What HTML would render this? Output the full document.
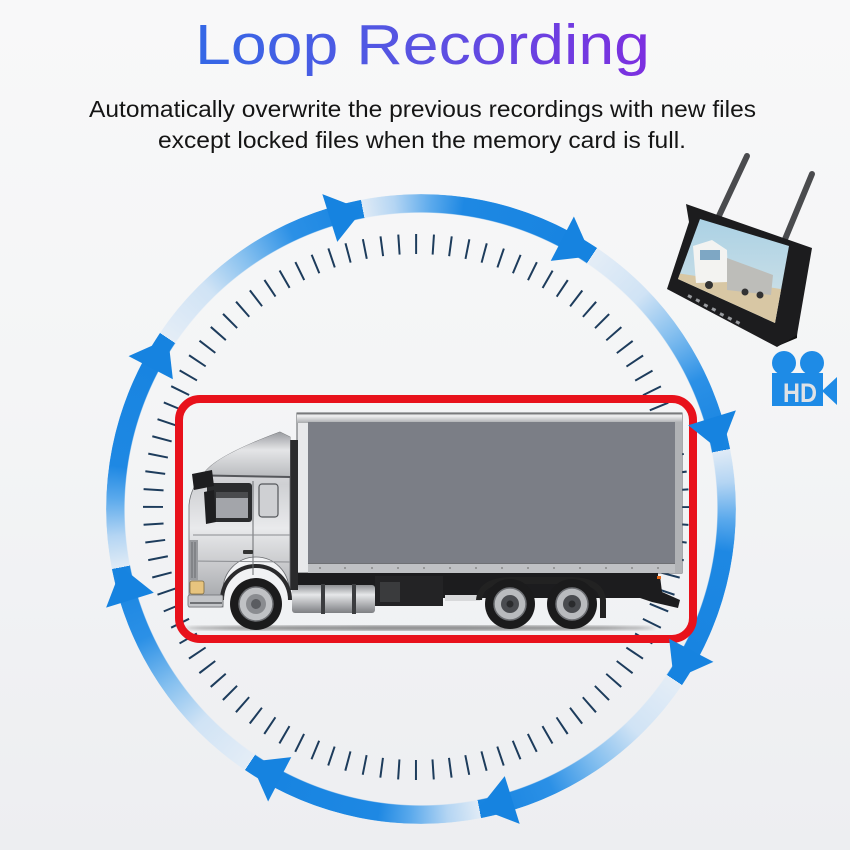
<!DOCTYPE html>
<html><head><meta charset="utf-8">
<style>
html,body{margin:0;padding:0;}
body{width:850px;height:850px;position:relative;overflow:hidden;
background:linear-gradient(180deg,#f8f8f9 0%,#f4f5f6 45%,#edeef1 100%);
font-family:"Liberation Sans",Arial,sans-serif;}
#ring{position:absolute;left:106px;top:194px;width:630px;height:630px;border-radius:50%;
background:repeating-conic-gradient(from 304deg,#e4edf6 0deg,#d0e3f5 12deg,#86c0ef 21deg,#2b90e6 31deg,#1683e0 45deg,#e0ebf6 45deg,#b4d5f3 51deg,#5aa9ec 58deg,#1e88e3 64deg,#1683e0 90deg);
-webkit-mask-image:radial-gradient(circle at center,transparent 296px,#000 297px,#000 314.5px,transparent 315.5px);
mask-image:radial-gradient(circle at center,transparent 296px,#000 297px,#000 314.5px,transparent 315.5px);}
svg{position:absolute;left:0;top:0;}
</style></head>
<body>
<div id="ring"></div>
<svg width="850" height="850" viewBox="0 0 850 850" xmlns="http://www.w3.org/2000/svg">
<defs>
<linearGradient id="tg" gradientUnits="userSpaceOnUse" x1="195" y1="0" x2="650" y2="0">
<stop offset="0" stop-color="#3468e6"/><stop offset="0.5" stop-color="#5a52e2"/><stop offset="1" stop-color="#7d2fe0"/>
</linearGradient>
<linearGradient id="silv" x1="0" y1="0" x2="0" y2="1">
<stop offset="0" stop-color="#f2f2f4"/><stop offset="0.3" stop-color="#cfd0d3"/><stop offset="0.55" stop-color="#e9eaec"/><stop offset="0.8" stop-color="#c2c3c6"/><stop offset="1" stop-color="#9fa1a5"/>
</linearGradient>
<linearGradient id="roof" x1="0" y1="0" x2="0" y2="1">
<stop offset="0" stop-color="#9a9ca0"/><stop offset="0.4" stop-color="#e4e5e7"/><stop offset="1" stop-color="#b9bbbe"/>
</linearGradient>
<linearGradient id="rail" x1="0" y1="0" x2="0" y2="1">
<stop offset="0" stop-color="#5a5b5e"/><stop offset="0.25" stop-color="#f4f4f5"/><stop offset="1" stop-color="#a9abae"/>
</linearGradient>
<linearGradient id="post" x1="0" y1="0" x2="1" y2="0">
<stop offset="0" stop-color="#e8e9eb"/><stop offset="1" stop-color="#a8aaad"/>
</linearGradient>
<linearGradient id="tank" x1="0" y1="0" x2="0" y2="1">
<stop offset="0" stop-color="#8e9094"/><stop offset="0.35" stop-color="#e6e7e9"/><stop offset="1" stop-color="#7d7f83"/>
</linearGradient>
<linearGradient id="sky" x1="0" y1="0" x2="0" y2="1">
<stop offset="0" stop-color="#a8d0e4"/><stop offset="1" stop-color="#d6e4e8"/>
</linearGradient>
<filter id="blur2"><feGaussianBlur stdDeviation="1.5"/></filter>
<clipPath id="scr"><polygon points="700,219 789,246 775,323 678,279"/></clipPath>
</defs>

<!-- tick ring -->
<circle cx="416" cy="507" r="263" fill="none" stroke="#1d3c5c" stroke-width="20" stroke-dasharray="2 15.2133" stroke-dashoffset="1"/>

<!-- red frame -->
<rect x="179" y="399" width="514" height="240" rx="21" fill="none" stroke="#e8111b" stroke-width="8"/>

<!-- truck -->
<ellipse cx="420" cy="628" rx="235" ry="2.5" fill="#333" opacity="0.55" filter="url(#blur2)"/>
<rect x="297" y="413" width="385" height="160" fill="url(#post)" stroke="#5d5f63" stroke-width="1"/>
<rect x="297" y="413" width="385" height="10" fill="url(#rail)"/>
<rect x="308" y="422" width="367" height="141" fill="#7b7e86"/>
<rect x="308" y="563" width="374" height="10" fill="#bfc1c4"/>
<line x1="308" y1="563.5" x2="675" y2="563.5" stroke="#6e7074" stroke-width="1"/>
<g fill="#777">
<circle cx="320" cy="568" r="0.9"/><circle cx="345" cy="568" r="0.9"/><circle cx="372" cy="568" r="0.9"/><circle cx="398" cy="568" r="0.9"/><circle cx="424" cy="568" r="0.9"/><circle cx="450" cy="568" r="0.9"/><circle cx="476" cy="568" r="0.9"/><circle cx="502" cy="568" r="0.9"/><circle cx="528" cy="568" r="0.9"/><circle cx="554" cy="568" r="0.9"/><circle cx="580" cy="568" r="0.9"/><circle cx="606" cy="568" r="0.9"/><circle cx="632" cy="568" r="0.9"/><circle cx="658" cy="568" r="0.9"/>
</g>
<rect x="675" y="422" width="7" height="151" fill="#b0b2b5"/>
<rect x="296" y="573" width="362" height="25" fill="#1c1c1e"/>
<rect x="445" y="595" width="35" height="6" fill="#d8d9db"/>
<path d="M640 578 L660 576 L662 592 L680 600 L678 608 L652 602 L640 598 Z" fill="#1c1c1e"/>
<rect x="657" y="576" width="4" height="3" fill="#e86a1a"/>
<path d="M476 600 Q478 578 510 577 L572 577 Q604 578 606 600 L606 618 L600 618 L600 600 Q598 584 572 584 L510 584 Q483 584 482 600 Z" fill="#222"/>
<g>
<circle cx="510" cy="604" r="25" fill="#1b1b1c"/>
<circle cx="510" cy="604" r="16" fill="#b9bbbe" stroke="#6d6f73" stroke-width="1.5"/>
<circle cx="510" cy="604" r="9" fill="#4a4c50"/>
<circle cx="510" cy="604" r="3.5" fill="#2a2b2d"/>
<circle cx="572" cy="604" r="25" fill="#1b1b1c"/>
<circle cx="572" cy="604" r="16" fill="#b9bbbe" stroke="#6d6f73" stroke-width="1.5"/>
<circle cx="572" cy="604" r="9" fill="#4a4c50"/>
<circle cx="572" cy="604" r="3.5" fill="#2a2b2d"/>
</g>
<rect x="375" y="576" width="68" height="30" fill="#232325"/>
<rect x="380" y="582" width="20" height="20" fill="#3a3b3d"/>
<rect x="292" y="585" width="83" height="28" rx="3" fill="url(#tank)"/>
<rect x="321" y="584" width="4" height="30" fill="#3b3c3f"/>
<rect x="352" y="584" width="4" height="30" fill="#3b3c3f"/>
<rect x="288" y="440" width="10" height="150" fill="#2a2a2c"/>
<path d="M189,505 C190,492 196,482 205,472 C214,460 240,447 280,432 L290,437 L290,590 L289,590 A33,33 0 0 0 223,590 L223,607 L189,607 Z" fill="url(#silv)" stroke="#6b6d71" stroke-width="0.8"/>
<path d="M205,472 C214,460 240,447 280,432 L290,437 L290,477 L208,475 Z" fill="url(#roof)"/>
<line x1="207" y1="475.5" x2="290" y2="477" stroke="#55575b" stroke-width="2"/>
<path d="M222,600 A34,34 0 0 1 290,600" fill="none" stroke="#2a2a2c" stroke-width="4"/>
<circle cx="256" cy="604" r="26" fill="#1b1b1c"/>
<circle cx="256" cy="604" r="17" fill="#c0c2c5" stroke="#6d6f73" stroke-width="1.5"/>
<circle cx="256" cy="604" r="10" fill="#8a8c90"/>
<circle cx="256" cy="604" r="5" fill="#5a5c60"/>
<rect x="207" y="483" width="45" height="39" rx="3" fill="#2b2c2e"/>
<rect x="216" y="492" width="32" height="26" fill="#a3a5aa"/>
<rect x="216" y="492" width="32" height="6" fill="#4a4b4e"/>
<path d="M204,492 L214,490 L216,522 L206,524 Z" fill="#1e1e20"/>
<path d="M192,474 L212,470 L214,486 L194,490 Z" fill="#1e1e20"/>
<rect x="259" y="484" width="19" height="33" rx="3" fill="#cfd0d3" stroke="#55575b" stroke-width="1.2"/>
<line x1="253" y1="481" x2="253" y2="575" stroke="#6b6d71" stroke-width="1"/>
<line x1="193" y1="535" x2="290" y2="535" stroke="#8a8c90" stroke-width="1"/>
<line x1="192" y1="561" x2="290" y2="562" stroke="#8a8c90" stroke-width="1"/>
<rect x="243" y="550" width="10" height="4" rx="1" fill="#333"/>
<rect x="189" y="540" width="9" height="40" fill="#9a9ca0"/>
<line x1="192" y1="542" x2="192" y2="578" stroke="#6a6c70" stroke-width="1"/>
<line x1="195" y1="542" x2="195" y2="578" stroke="#6a6c70" stroke-width="1"/>
<rect x="190" y="581" width="14" height="13" rx="2" fill="#e7c47e" stroke="#7d6a40" stroke-width="0.8"/>
<rect x="188" y="595" width="35" height="12" rx="2" fill="#c3c5c8" stroke="#6b6d71" stroke-width="0.8"/>
<line x1="190" y1="603" x2="222" y2="603" stroke="#55575b" stroke-width="1.5"/>

<!-- arrowheads -->
<g fill="#1683e0">
<polygon points="421,179 421,229 455,206" transform="rotate(342.6 421 509)"/>
<polygon points="421,179 421,229 455,206" transform="rotate(27.6 421 509)"/>
<polygon points="421,179 421,229 455,206" transform="rotate(72.6 421 509)"/>
<polygon points="421,179 421,229 455,206" transform="rotate(117.6 421 509)"/>
<polygon points="421,179 421,229 455,206" transform="rotate(162.6 421 509)"/>
<polygon points="421,179 421,229 455,206" transform="rotate(207.6 421 509)"/>
<polygon points="421,179 421,229 455,206" transform="rotate(252.6 421 509)"/>
<polygon points="421,179 421,229 455,206" transform="rotate(297.6 421 509)"/>
</g>

<!-- monitor -->
<line x1="718" y1="218" x2="747" y2="156" stroke="#4a4b4e" stroke-width="6" stroke-linecap="round"/>
<line x1="783" y1="244" x2="812" y2="174" stroke="#4a4b4e" stroke-width="6" stroke-linecap="round"/>
<polygon points="780,302 798,296 797,338 778,346" fill="#111"/>
<polygon points="686,204 812,248 797,335 777,347 667,289 689,222" fill="#1c1c1e"/>
<g clip-path="url(#scr)">
<rect x="670" y="212" width="130" height="115" fill="url(#sky)"/>
<polygon points="670,272 800,292 800,330 670,330" fill="#d8c7a4"/>
<polygon points="693,246 712,240 727,250 728,282 696,283" fill="#f3f3f1"/>
<polygon points="727,258 773,275 771,295 727,290" fill="#bdbdb9"/>
<rect x="700" y="250" width="20" height="10" fill="#7ea7c4"/>
<circle cx="709" cy="285" r="4" fill="#333"/><circle cx="745" cy="292" r="3.5" fill="#333"/><circle cx="760" cy="295" r="3.5" fill="#333"/>
</g>
<g fill="#9a9ca0">
<rect x="688" y="295" width="4" height="3" transform="rotate(27 690 296)"/>
<rect x="696" y="299" width="4" height="3" transform="rotate(27 698 300)"/>
<rect x="704" y="304" width="4" height="3" transform="rotate(27 706 305)"/>
<rect x="712" y="308" width="4" height="3" transform="rotate(27 714 309)"/>
<rect x="720" y="313" width="4" height="3" transform="rotate(27 722 314)"/>
<rect x="728" y="317" width="4" height="3" transform="rotate(27 730 318)"/>
<rect x="736" y="321" width="4" height="3" transform="rotate(27 738 322)"/>
</g>

<!-- HD camera icon -->
<g fill="#1e8be6">
<circle cx="784" cy="363" r="12"/>
<circle cx="812" cy="363" r="12"/>
<rect x="772" y="373" width="51" height="33"/>
<polygon points="822,391 837,377 837,405"/>
</g>
<text x="783" y="402" font-size="27" font-weight="bold" fill="#dfe2e6" textLength="34" lengthAdjust="spacingAndGlyphs" font-family="Liberation Sans, Arial, sans-serif">HD</text>

<!-- text -->
<text x="195" y="64" font-size="57" fill="url(#tg)" textLength="455" lengthAdjust="spacingAndGlyphs" font-family="Liberation Sans, Arial, sans-serif">Loop Recording</text>
<text x="89" y="117" font-size="23" fill="#151515" textLength="667" lengthAdjust="spacingAndGlyphs" font-family="Liberation Sans, Arial, sans-serif">Automatically overwrite the previous recordings with new files</text>
<text x="158" y="148" font-size="23" fill="#151515" textLength="528" lengthAdjust="spacingAndGlyphs" font-family="Liberation Sans, Arial, sans-serif">except locked files when the memory card is full.</text>
</svg>
</body></html>
